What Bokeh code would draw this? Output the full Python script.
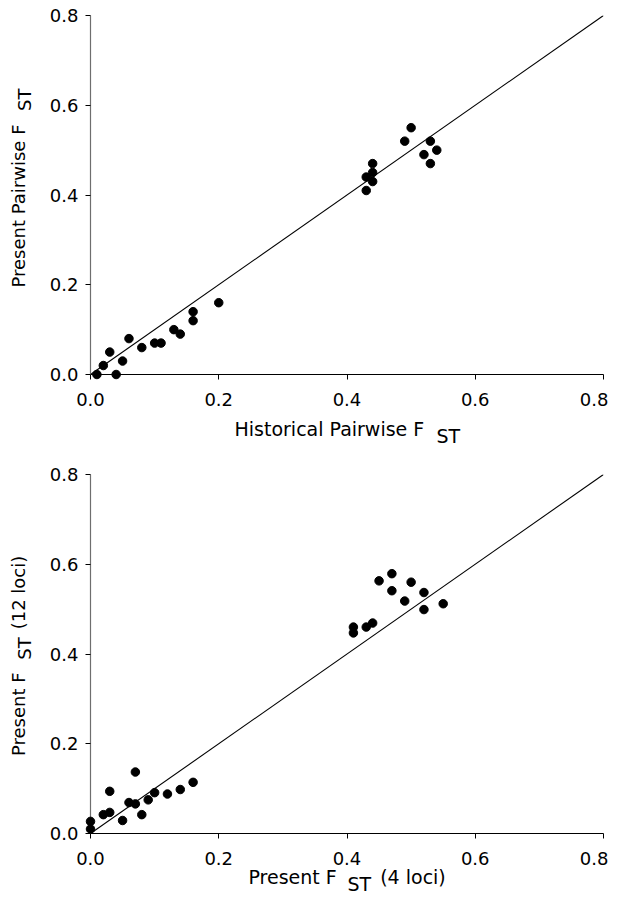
import math
from bokeh.plotting import figure
from bokeh.layouts import column
from bokeh.models import Range1d, FixedTicker
from bokeh.core.properties import value
from bokeh.embed import file_html
from bokeh.resources import INLINE

# ---------------- data ----------------
hist_fst = [0.01, 0.02, 0.03, 0.04, 0.05, 0.06, 0.08, 0.10, 0.11, 0.13, 0.14, 0.16, 0.16, 0.20,
            0.43, 0.43, 0.44, 0.44, 0.44, 0.49, 0.50, 0.52, 0.53, 0.53, 0.54]
pres_fst = [0.00, 0.02, 0.05, 0.00, 0.03, 0.08, 0.06, 0.07, 0.07, 0.10, 0.09, 0.14, 0.12, 0.16,
            0.44, 0.41, 0.45, 0.43, 0.47, 0.52, 0.55, 0.49, 0.52, 0.47, 0.50]

pres4_fst = [0.00, 0.00, 0.02, 0.03, 0.03, 0.05, 0.06, 0.07, 0.07, 0.08, 0.09, 0.10, 0.12, 0.14, 0.16,
             0.41, 0.41, 0.43, 0.44, 0.45, 0.47, 0.47, 0.49, 0.50, 0.52, 0.52, 0.55]
pres12_fst = [0.027, 0.010, 0.042, 0.047, 0.094, 0.029, 0.069, 0.066, 0.137, 0.042, 0.075, 0.091, 0.088,
              0.098, 0.114,
              0.460, 0.447, 0.460, 0.469, 0.563, 0.579, 0.541, 0.518, 0.560, 0.537, 0.499, 0.512]

identity_x = [0.0, 0.8]
identity_y = [0.0, 0.8]

tick_values = [0.0, 0.2, 0.4, 0.6, 0.8]
tick_labels = ["0.0", "0.2", "0.4", "0.6", "0.8"]

FONT = "DejaVu Sans"
TICK_SIZE = "18px"
XLABEL_SIZE = "19px"
YLABEL_SIZE = "18px"

LEFT = 90
FRAME_W = 513
FRAME_H = 359
RIGHT = 5
W = LEFT + FRAME_W + RIGHT


def make_plot(xs, ys, height, top):
    p = figure(width=W, height=height, output_backend="svg", toolbar_location=None,
               x_range=Range1d(0, 0.8), y_range=Range1d(0, 0.8),
               min_border_left=LEFT, min_border_right=RIGHT,
               min_border_top=top, min_border_bottom=height - top - FRAME_H)
    p.outline_line_color = None
    p.grid.visible = False
    p.background_fill_color = "white"
    p.border_fill_color = "white"

    for ax in (p.xaxis[0], p.yaxis[0]):
        ax.ticker = FixedTicker(ticks=tick_values)
        ax.major_label_overrides = {v: s for v, s in zip(tick_values, tick_labels)}
        ax.minor_tick_line_color = None
        ax.major_tick_in = 0
        ax.major_tick_out = 5
        ax.major_tick_line_color = "black"
        ax.major_label_text_font = FONT
        ax.major_label_text_font_size = TICK_SIZE
        ax.major_label_text_color = "black"
        ax.axis_line_width = 1.2
    p.xaxis.axis_line_color = "black"
    p.yaxis.axis_line_color = "#6e6e6e"
    p.xaxis.major_label_standoff = 13
    p.yaxis.major_label_standoff = 7

    p.line(identity_x, identity_y, line_color="black", line_width=1.1)
    p.scatter(xs, ys, marker="circle", size=8.5, fill_color="black", line_color="black",
              level="overlay")
    return p


SX = 0.8 / FRAME_W
SY = 0.8 / FRAME_H


def put_text(p, base, text, px, py, size, angle=0.0):
    """Place text with its left end / vertical middle at a page pixel position."""
    x = (px - LEFT) * SX
    y = (base - py) * SY
    p.text(x=[x], y=[y], text=[text], angle=angle,
           text_font=value(FONT), text_font_size=size, text_color="black",
           text_align="left", text_baseline="middle", level="overlay")


H1 = 458
H2 = 440
TOP1 = 15
TOP2 = 16
p1 = make_plot(hist_fst, pres_fst, H1, TOP1)
p2 = make_plot(pres4_fst, pres12_fst, H2, TOP2)

ROT = math.pi / 2
B1 = TOP1 + FRAME_H            # 374 : frame bottom of top plot (page px)
B2 = H1 + TOP2 + FRAME_H       # 833 : frame bottom of bottom plot (page px)

# top plot labels
put_text(p1, B1, "Historical Pairwise F", 234, 428.5, XLABEL_SIZE)
put_text(p1, B1, "ST", 436, 435, XLABEL_SIZE)
put_text(p1, B1, "Present Pairwise F", 18, 287, YLABEL_SIZE, ROT)
put_text(p1, B1, "ST", 23.5, 110.5, YLABEL_SIZE, ROT)

# bottom plot labels
put_text(p2, B2, "Present F", 248, 876.5, XLABEL_SIZE)
put_text(p2, B2, "ST", 347, 883, XLABEL_SIZE)
put_text(p2, B2, "(4 loci)", 379.7, 876.5, XLABEL_SIZE)
put_text(p2, B2, "Present F", 18, 755.5, YLABEL_SIZE, ROT)
put_text(p2, B2, "ST", 23.5, 659.2, YLABEL_SIZE, ROT)
put_text(p2, B2, "(12 loci)", 18, 628.8, YLABEL_SIZE, ROT)

layout = column(p1, p2, spacing=0)
open("out.html", "w").write(file_html(layout, INLINE))
